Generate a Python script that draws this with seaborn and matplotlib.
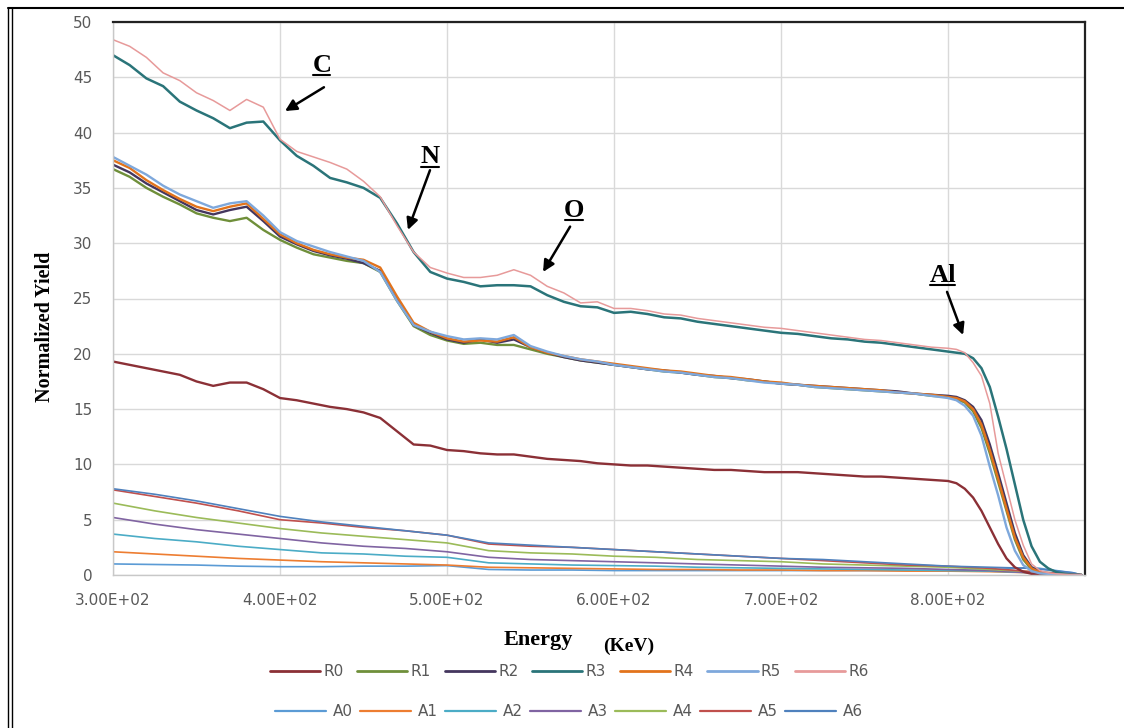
import numpy as np
import pandas as pd
import matplotlib
matplotlib.use("Agg")
import matplotlib.pyplot as plt
import seaborn as sns
from matplotlib.lines import Line2D

# ---------------- data ----------------
ENERGY_R = list(range(300, 801, 10)) + list(range(805, 881, 5))

R0 = [19.3, 19.0, 18.7, 18.4, 18.1, 17.5, 17.1, 17.4, 17.4, 16.8,
      16.0, 15.8, 15.5, 15.2, 15.0, 14.7, 14.2, 13.0, 11.8, 11.7,
      11.3, 11.2, 11.0, 10.9, 10.9, 10.7, 10.5, 10.4, 10.3, 10.1,
      10.0, 9.9, 9.9, 9.8, 9.7, 9.6, 9.5, 9.5, 9.4, 9.3,
      9.3, 9.3, 9.2, 9.1, 9.0, 8.9, 8.9, 8.8, 8.7, 8.6,
      8.5,
      8.3, 7.8, 7.0, 5.8, 4.3, 2.8, 1.5, 0.7, 0.3, 0.1, 0.05, 0.0, 0.0, 0.0, 0.0, 0.0]
R1 = [36.7, 36.0, 35.0, 34.2, 33.5, 32.7, 32.3, 32.0, 32.3, 31.2,
      30.3, 29.6, 29.0, 28.7, 28.4, 28.2, 27.4, 24.8, 22.5, 21.7,
      21.2, 20.9, 21.0, 20.8, 20.8, 20.4, 20.0, 19.7, 19.4, 19.2,
      19.0, 18.8, 18.6, 18.4, 18.3, 18.1, 17.9, 17.8, 17.6, 17.5,
      17.3, 17.2, 17.0, 16.9, 16.8, 16.7, 16.6, 16.5, 16.4, 16.2,
      16.1,
      15.9, 15.6, 14.8, 13.3, 11.0, 8.4, 5.8, 3.2, 1.4, 0.5, 0.2, 0.1, 0.05, 0.0, 0.0, 0.0]
R2 = [37.1, 36.4, 35.4, 34.6, 33.8, 33.0, 32.6, 33.0, 33.3, 32.0,
      30.6, 29.9, 29.3, 28.9, 28.6, 28.2, 27.5, 25.0, 22.6, 21.9,
      21.3, 21.0, 21.3, 21.0, 21.3, 20.6, 20.1, 19.7, 19.4, 19.2,
      19.0, 18.8, 18.6, 18.5, 18.3, 18.1, 18.0, 17.8, 17.7, 17.5,
      17.3, 17.2, 17.1, 17.0, 16.9, 16.8, 16.7, 16.6, 16.4, 16.3,
      16.2,
      16.1, 15.8, 15.2, 14.0, 11.8, 9.2, 6.5, 3.8, 1.8, 0.7, 0.3, 0.1, 0.05, 0.0, 0.0, 0.0]
R3 = [47.0, 46.1, 44.9, 44.2, 42.8, 42.0, 41.3, 40.4, 40.9, 41.0,
      39.3, 37.9, 37.0, 35.9, 35.5, 35.0, 34.1, 31.8, 29.2, 27.4,
      26.8, 26.5, 26.1, 26.2, 26.2, 26.1, 25.3, 24.7, 24.3, 24.2,
      23.7, 23.8, 23.6, 23.3, 23.2, 22.9, 22.7, 22.5, 22.3, 22.1,
      21.9, 21.8, 21.6, 21.4, 21.3, 21.1, 21.0, 20.8, 20.6, 20.4,
      20.2,
      20.1, 20.0, 19.6, 18.7, 17.0, 14.3, 11.4, 8.2, 5.0, 2.6, 1.2, 0.6, 0.25, 0.1, 0.0, 0.0]
R4 = [37.5, 36.8, 35.7, 34.8, 34.0, 33.3, 32.9, 33.3, 33.6, 32.2,
      30.8, 30.0, 29.4, 29.0, 28.7, 28.5, 27.8, 25.2, 22.8, 22.0,
      21.4, 21.1, 21.2, 21.1, 21.5, 20.6, 20.1, 19.8, 19.5, 19.3,
      19.1, 18.9, 18.7, 18.5, 18.4, 18.2, 18.0, 17.9, 17.7, 17.5,
      17.4, 17.2, 17.1, 17.0, 16.9, 16.8, 16.7, 16.5, 16.4, 16.3,
      16.1,
      16.0, 15.7, 15.0, 13.6, 11.3, 8.7, 6.0, 3.4, 1.6, 0.6, 0.25, 0.1, 0.05, 0.0, 0.0, 0.0]
R5 = [37.8, 37.0, 36.2, 35.2, 34.4, 33.8, 33.2, 33.6, 33.8, 32.5,
      31.0, 30.2, 29.7, 29.2, 28.8, 28.4, 27.4, 24.8, 22.6, 22.0,
      21.6, 21.3, 21.4, 21.3, 21.7, 20.7, 20.2, 19.8, 19.5, 19.3,
      19.0, 18.8, 18.6, 18.4, 18.3, 18.1, 17.9, 17.8, 17.6, 17.4,
      17.3, 17.2, 17.0, 16.9, 16.8, 16.7, 16.6, 16.5, 16.4, 16.2,
      16.0,
      15.8, 15.3, 14.4, 12.6, 9.8, 7.2, 4.3, 2.2, 0.9, 0.35, 0.15, 0.1, 0.05, 0.0, 0.0, 0.0]
R6 = [48.4, 47.8, 46.8, 45.4, 44.7, 43.6, 42.9, 42.0, 43.0, 42.3,
      39.4, 38.3, 37.8, 37.3, 36.7, 35.6, 34.2, 31.6, 29.2, 27.8,
      27.3, 26.9, 26.9, 27.1, 27.6, 27.1, 26.1, 25.5, 24.6, 24.7,
      24.1, 24.1, 23.9, 23.6, 23.5, 23.2, 23.0, 22.8, 22.6, 22.4,
      22.3, 22.1, 21.9, 21.7, 21.5, 21.3, 21.2, 21.0, 20.8, 20.6,
      20.5,
      20.4, 20.1, 19.2, 18.0, 15.5, 11.0, 8.0, 5.0, 2.7, 1.0, 0.4, 0.2, 0.1, 0.05, 0.0, 0.0]

ENERGY_A = list(range(300, 876, 25)) + [880]

A0 = [1.0, 0.95, 0.9, 0.8, 0.75, 0.75, 0.8, 0.8, 0.85, 0.5, 0.45, 0.45, 0.4,
      0.4, 0.4, 0.4, 0.4, 0.4, 0.4, 0.4, 0.4, 0.45, 0.7, 0.2, 0.0]
A1 = [2.1, 1.9, 1.7, 1.5, 1.35, 1.2, 1.1, 1.0, 0.9, 0.7, 0.65, 0.6, 0.55,
      0.5, 0.5, 0.45, 0.45, 0.4, 0.4, 0.35, 0.35, 0.3, 0.2, 0.05, 0.0]
A2 = [3.7, 3.3, 3.0, 2.6, 2.3, 2.0, 1.9, 1.7, 1.6, 1.1, 1.0, 0.9, 0.85,
      0.8, 0.7, 0.65, 0.6, 0.55, 0.5, 0.45, 0.4, 0.35, 0.2, 0.05, 0.0]
A3 = [5.2, 4.6, 4.1, 3.7, 3.3, 2.9, 2.6, 2.4, 2.1, 1.6, 1.4, 1.3, 1.2,
      1.1, 1.0, 0.9, 0.8, 0.7, 0.65, 0.6, 0.5, 0.4, 0.2, 0.1, 0.0]
A4 = [6.5, 5.8, 5.2, 4.7, 4.2, 3.8, 3.5, 3.2, 2.9, 2.2, 2.0, 1.9, 1.7,
      1.6, 1.4, 1.3, 1.2, 1.0, 0.9, 0.8, 0.7, 0.5, 0.3, 0.1, 0.0]
A5 = [7.7, 7.1, 6.5, 5.8, 5.0, 4.7, 4.3, 4.0, 3.6, 2.8, 2.6, 2.5, 2.3,
      2.1, 1.9, 1.7, 1.5, 1.3, 1.1, 0.9, 0.8, 0.6, 0.3, 0.1, 0.0]
A6 = [7.8, 7.3, 6.7, 6.0, 5.3, 4.8, 4.4, 4.0, 3.6, 2.9, 2.7, 2.5, 2.3,
      2.1, 1.9, 1.7, 1.5, 1.4, 1.2, 1.0, 0.8, 0.7, 0.6, 0.2, 0.0]

R_NAMES = ["R0", "R1", "R2", "R3", "R4", "R5", "R6"]
A_NAMES = ["A0", "A1", "A2", "A3", "A4", "A5", "A6"]
R_VALUES = [R0, R1, R2, R3, R4, R5, R6]
A_VALUES = [A0, A1, A2, A3, A4, A5, A6]
R_COLORS = ["#8B3036", "#6F8F3A", "#44365E", "#2A7479", "#E2731C", "#7EA8DC", "#E79A9A"]
A_COLORS = ["#5B9BD5", "#ED7D31", "#4BACC6", "#8064A2", "#9BBB59", "#C0504D", "#4F81BD"]
R_WIDTHS = [1.7, 1.7, 1.7, 1.8, 1.7, 1.7, 1.1]

X_TICKS = [300, 400, 500, 600, 700, 800]
X_TICK_LABELS = ["3.00E+02", "4.00E+02", "5.00E+02", "6.00E+02", "7.00E+02", "8.00E+02"]
Y_TICKS = list(range(0, 51, 5))

ANNOT_LABELS = ["C", "N", "O", "Al"]
ANNOT_TEXT_POS = [(425.1, 45.5), (489.8, 37.25), (576.0, 32.4), (796.7, 26.5)]
ANNOT_TAIL = [(426.3, 44.1), (489.8, 36.6), (573.7, 31.5), (799.4, 25.6)]
ANNOT_HEAD = [(403.0, 41.95), (476.6, 31.2), (557.5, 27.4), (809.0, 21.7)]

# ---------------- plot ----------------
sns.set_theme(style="whitegrid", rc={"grid.color": "#D9D9D9", "grid.linewidth": 1.0})
plt.rcParams["font.family"] = ["DejaVu Sans"]

W, H = 1124, 728
fig = plt.figure(figsize=(W / 100, H / 100), dpi=100)
fig.patch.set_facecolor("white")
ax = fig.add_axes([113 / W, 1 - 575 / H, (1085 - 113) / W, (575 - 22) / H])

df_r = pd.concat([pd.DataFrame({"Energy": ENERGY_R, "Yield": v, "Series": n})
                  for n, v in zip(R_NAMES, R_VALUES)], ignore_index=True)
df_a = pd.concat([pd.DataFrame({"Energy": ENERGY_A, "Yield": v, "Series": n})
                  for n, v in zip(A_NAMES, A_VALUES)], ignore_index=True)

for n, c in zip(A_NAMES, A_COLORS):
    sns.lineplot(data=df_a[df_a.Series == n], x="Energy", y="Yield", color=c,
                 linewidth=1.2, estimator=None, ax=ax, legend=False)
for n, c, w in zip(R_NAMES, R_COLORS, R_WIDTHS):
    sns.lineplot(data=df_r[df_r.Series == n], x="Energy", y="Yield", color=c,
                 linewidth=w, estimator=None, ax=ax, legend=False)

ax.set_xlim(300, 882)
ax.set_ylim(0, 50)
ax.set_xticks(X_TICKS)
ax.set_xticklabels(X_TICK_LABELS)
ax.set_yticks(Y_TICKS)
ax.set_xlabel("")
ax.set_ylabel("")
ax.tick_params(axis="both", colors="#595959", labelsize=11, length=0)
ax.tick_params(axis="x", pad=13)
ax.tick_params(axis="y", pad=15)
ax.grid(True, color="#D9D9D9", linewidth=1.0)
ax.set_axisbelow(True)
for side in ["top", "right"]:
    ax.spines[side].set_color("#222222")
    ax.spines[side].set_linewidth(1.6)
for side in ["left", "bottom"]:
    ax.spines[side].set_color("#C8C8C8")
    ax.spines[side].set_linewidth(1.0)

# axis titles
fig.text(45 / W, 1 - 327 / H, "Normalized Yield", rotation=90, family="Liberation Serif",
         weight="bold", size=14.5, ha="center", va="center", color="black")
fig.text(538 / W, 1 - 640 / H, "Energy", family="Liberation Serif", weight="bold",
         size=16, ha="center", va="center", color="black")
fig.text(629 / W, 1 - 646 / H, "(KeV)", family="Liberation Serif", weight="bold",
         size=14, ha="center", va="center", color="black")

# annotations
texts = []
for lab, tp, tail, head in zip(ANNOT_LABELS, ANNOT_TEXT_POS, ANNOT_TAIL, ANNOT_HEAD):
    t = ax.text(tp[0], tp[1], lab, family="Liberation Serif", weight="bold", size=19,
                ha="center", va="baseline", color="black")
    texts.append((t, tp))
    ax.annotate("", xy=head, xytext=tail,
                arrowprops=dict(arrowstyle="-|>", color="black", lw=1.8,
                                mutation_scale=17, shrinkA=0, shrinkB=0))

# legends
r_handles = [Line2D([], [], color=c, lw=2.0) for c in R_COLORS]
a_handles = [Line2D([], [], color=c, lw=1.6) for c in A_COLORS]
fig.legend(r_handles, R_NAMES, loc="center", bbox_to_anchor=(569 / W, 1 - 672 / H), ncol=7,
           frameon=False, fontsize=11, handlelength=3.3, handletextpad=0.2,
           columnspacing=0.9, labelcolor="#595959")
fig.legend(a_handles, A_NAMES, loc="center", bbox_to_anchor=(569 / W, 1 - 712 / H), ncol=7,
           frameon=False, fontsize=11, handlelength=3.3, handletextpad=0.45,
           columnspacing=0.5, labelcolor="#595959")

# outer frame
fig.add_artist(Line2D([8 / W, 1.0], [1 - 8 / H, 1 - 8 / H], transform=fig.transFigure,
                      color="black", lw=1.5))
for xp in (8, 11.5):
    fig.add_artist(Line2D([xp / W, xp / W], [1 - 8 / H, 0.0], transform=fig.transFigure,
                          color="black", lw=1.0))

# underline annotation letters
fig.canvas.draw()
renderer = fig.canvas.get_renderer()
inv = fig.transFigure.inverted()
for t, tp in texts:
    bb = t.get_window_extent(renderer)
    base_y = ax.transData.transform(tp)[1] - 3.5
    (x0, y0) = inv.transform((bb.x0 + 1, base_y))
    (x1, _) = inv.transform((bb.x1 - 1, base_y))
    fig.add_artist(Line2D([x0, x1], [y0, y0], transform=fig.transFigure,
                          color="black", lw=1.5))

fig.savefig("out.png", dpi=100, facecolor="white")
